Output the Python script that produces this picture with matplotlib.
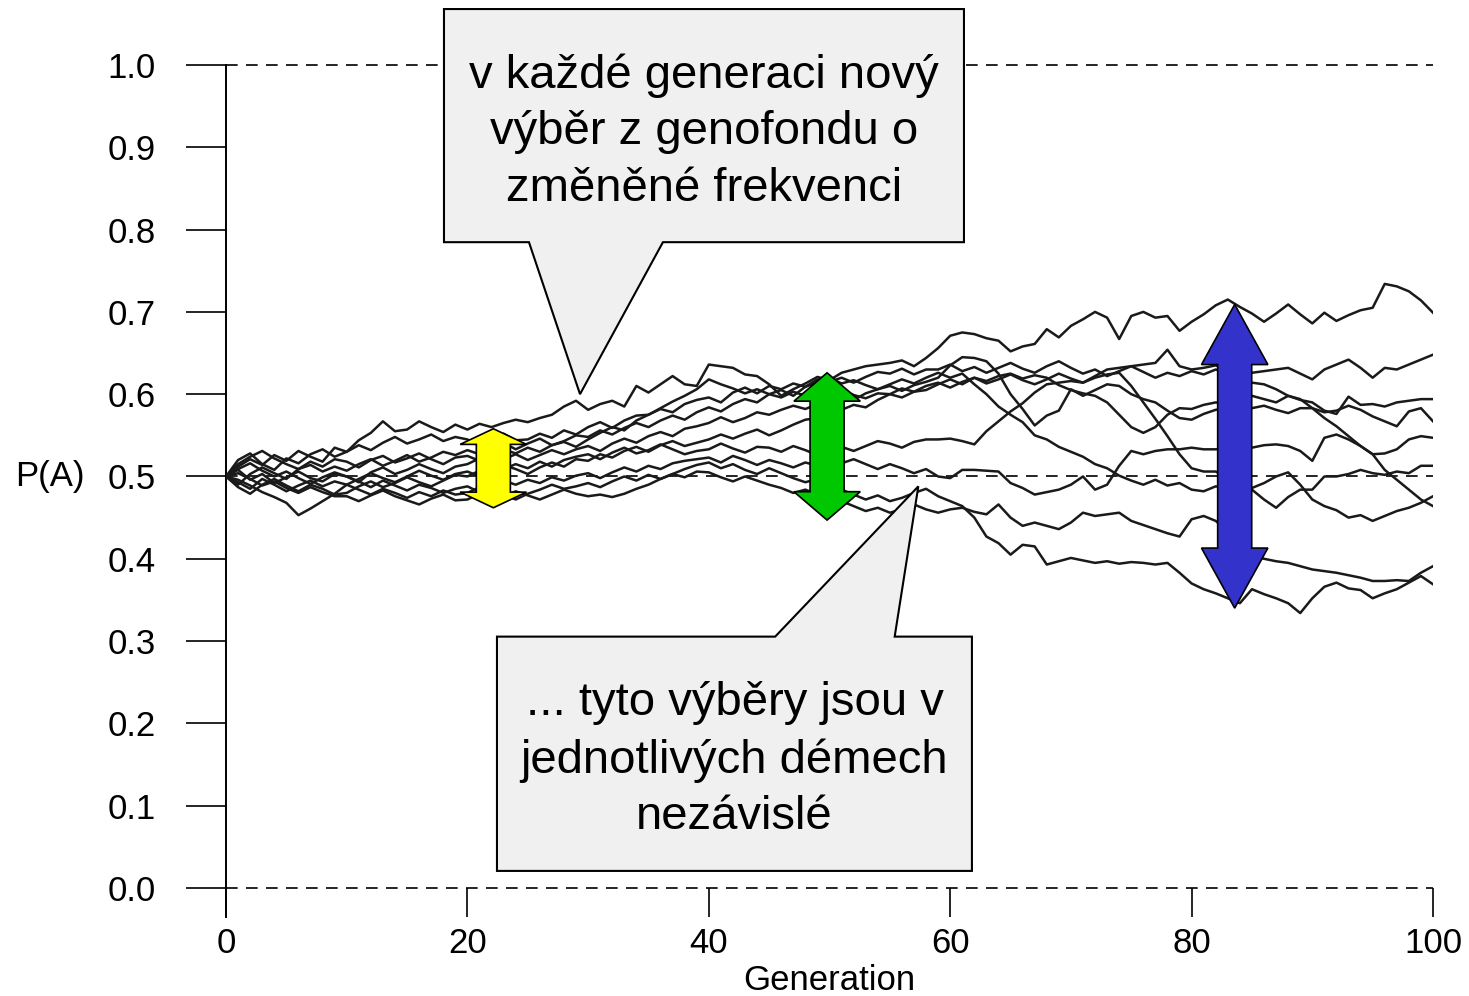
import matplotlib
matplotlib.use("Agg")
import matplotlib.pyplot as plt
from matplotlib.patches import Polygon
from matplotlib.transforms import blended_transform_factory

plt.rcParams["font.family"] = ["Liberation Sans", "DejaVu Sans"]

generations = list(range(101))

# P(A) in ten demes
deme_a = [0.500, 0.512, 0.521, 0.514, 0.526, 0.519, 0.531, 0.524, 0.518, 0.535,
          0.530, 0.544, 0.553, 0.567, 0.555, 0.557, 0.567, 0.560, 0.554, 0.563,
          0.557, 0.564, 0.560, 0.565, 0.569, 0.566, 0.571, 0.575, 0.585, 0.592,
          0.581, 0.588, 0.592, 0.585, 0.610, 0.602, 0.612, 0.622, 0.612, 0.610,
          0.636, 0.634, 0.632, 0.624, 0.622, 0.612, 0.598, 0.606, 0.613, 0.621,
          0.617, 0.626, 0.630, 0.634, 0.636, 0.638, 0.641, 0.634, 0.644, 0.656,
          0.671, 0.675, 0.673, 0.668, 0.665, 0.652, 0.658, 0.661, 0.679, 0.669,
          0.683, 0.691, 0.700, 0.693, 0.667, 0.695, 0.700, 0.693, 0.695, 0.677,
          0.688, 0.697, 0.708, 0.715, 0.706, 0.698, 0.688, 0.698, 0.709, 0.697,
          0.686, 0.699, 0.689, 0.696, 0.702, 0.705, 0.734, 0.731, 0.725, 0.714,
          0.699]
deme_b = [0.500, 0.487, 0.479, 0.490, 0.497, 0.489, 0.482, 0.490, 0.485, 0.478,
          0.480, 0.488, 0.494, 0.487, 0.492, 0.499, 0.493, 0.488, 0.495, 0.502,
          0.500, 0.507, 0.501, 0.509, 0.515, 0.510, 0.518, 0.512, 0.520, 0.524,
          0.527, 0.521, 0.529, 0.535, 0.528, 0.532, 0.539, 0.533, 0.527, 0.531,
          0.533, 0.540, 0.534, 0.529, 0.536, 0.535, 0.530, 0.537, 0.532, 0.526,
          0.530, 0.536, 0.531, 0.537, 0.543, 0.540, 0.535, 0.542, 0.545, 0.545,
          0.546, 0.543, 0.539, 0.555, 0.567, 0.579, 0.589, 0.602, 0.612, 0.614,
          0.616, 0.614, 0.622, 0.630, 0.632, 0.634, 0.636, 0.638, 0.654, 0.634,
          0.630, 0.632, 0.635, 0.629, 0.626, 0.626, 0.628, 0.630, 0.632, 0.625,
          0.618, 0.630, 0.636, 0.642, 0.632, 0.620, 0.632, 0.630, 0.636, 0.642,
          0.648]
deme_c = [0.500, 0.493, 0.485, 0.497, 0.490, 0.482, 0.489, 0.495, 0.488, 0.494,
          0.490, 0.497, 0.504, 0.498, 0.493, 0.500, 0.507, 0.501, 0.496, 0.503,
          0.506, 0.500, 0.508, 0.514, 0.509, 0.503, 0.511, 0.517, 0.512, 0.521,
          0.519, 0.527, 0.523, 0.531, 0.536, 0.530, 0.538, 0.543, 0.537, 0.541,
          0.545, 0.551, 0.546, 0.552, 0.557, 0.550, 0.556, 0.563, 0.569, 0.571,
          0.575, 0.581, 0.587, 0.584, 0.593, 0.600, 0.596, 0.603, 0.605, 0.612,
          0.618, 0.612, 0.620, 0.616, 0.622, 0.625, 0.619, 0.623, 0.620, 0.611,
          0.605, 0.601, 0.598, 0.590, 0.575, 0.560, 0.553, 0.560, 0.575, 0.583,
          0.582, 0.587, 0.590, 0.588, 0.594, 0.598, 0.594, 0.590, 0.598, 0.593,
          0.590, 0.580, 0.576, 0.597, 0.587, 0.588, 0.585, 0.590, 0.592, 0.594,
          0.594]
deme_d = [0.500, 0.508, 0.496, 0.503, 0.492, 0.499, 0.506, 0.498, 0.494, 0.503,
          0.500, 0.493, 0.505, 0.511, 0.503, 0.508, 0.515, 0.509, 0.504, 0.512,
          0.515, 0.522, 0.516, 0.521, 0.527, 0.520, 0.526, 0.532, 0.527, 0.533,
          0.537, 0.531, 0.540, 0.546, 0.541, 0.549, 0.554, 0.549, 0.558, 0.561,
          0.565, 0.572, 0.566, 0.571, 0.578, 0.575, 0.581, 0.586, 0.582, 0.588,
          0.590, 0.597, 0.593, 0.601, 0.606, 0.610, 0.604, 0.611, 0.615, 0.620,
          0.635, 0.645, 0.644, 0.640, 0.625, 0.600, 0.582, 0.562, 0.574, 0.580,
          0.606, 0.598, 0.605, 0.612, 0.610, 0.600, 0.594, 0.590, 0.580, 0.571,
          0.569, 0.576, 0.581, 0.583, 0.579, 0.583, 0.586, 0.581, 0.577, 0.583,
          0.583, 0.578, 0.580, 0.586, 0.581, 0.573, 0.567, 0.561, 0.579, 0.583,
          0.567]
deme_e = [0.500, 0.509, 0.516, 0.507, 0.500, 0.506, 0.498, 0.491, 0.499, 0.505,
          0.500, 0.494, 0.487, 0.495, 0.489, 0.483, 0.490, 0.486, 0.480, 0.485,
          0.488, 0.481, 0.489, 0.495, 0.490, 0.496, 0.492, 0.499, 0.495, 0.501,
          0.504, 0.498, 0.505, 0.511, 0.506, 0.513, 0.509, 0.516, 0.519, 0.521,
          0.523, 0.517, 0.525, 0.520, 0.514, 0.520, 0.516, 0.511, 0.517, 0.513,
          0.510, 0.516, 0.521, 0.515, 0.509, 0.515, 0.510, 0.504, 0.509, 0.500,
          0.498, 0.508, 0.508, 0.507, 0.506, 0.492, 0.486, 0.478, 0.481, 0.484,
          0.490, 0.500, 0.484, 0.490, 0.513, 0.531, 0.527, 0.531, 0.533, 0.533,
          0.535, 0.533, 0.533, 0.534, 0.535, 0.535, 0.538, 0.539, 0.537, 0.531,
          0.519, 0.547, 0.551, 0.545, 0.537, 0.527, 0.528, 0.533, 0.545, 0.549,
          0.547]
deme_f = [0.500, 0.515, 0.524, 0.531, 0.522, 0.515, 0.509, 0.518, 0.512, 0.521,
          0.518, 0.511, 0.520, 0.525, 0.517, 0.522, 0.528, 0.521, 0.515, 0.523,
          0.525, 0.519, 0.527, 0.533, 0.528, 0.535, 0.530, 0.538, 0.542, 0.536,
          0.545, 0.553, 0.560, 0.556, 0.568, 0.575, 0.583, 0.591, 0.598, 0.606,
          0.618, 0.612, 0.607, 0.601, 0.606, 0.600, 0.596, 0.603, 0.598, 0.604,
          0.600, 0.606, 0.599, 0.595, 0.601, 0.600, 0.607, 0.603, 0.610, 0.614,
          0.608, 0.615, 0.620, 0.613, 0.618, 0.624, 0.617, 0.612, 0.618, 0.625,
          0.619, 0.614, 0.620, 0.624, 0.626, 0.610, 0.590, 0.570, 0.549, 0.527,
          0.510, 0.506, 0.506, 0.498, 0.490, 0.484, 0.472, 0.462, 0.475, 0.484,
          0.484, 0.500, 0.500, 0.503, 0.508, 0.504, 0.502, 0.506, 0.504, 0.513,
          0.513]
deme_g = [0.500, 0.490, 0.503, 0.511, 0.504, 0.497, 0.509, 0.514, 0.506, 0.512,
          0.507, 0.515, 0.521, 0.513, 0.519, 0.526, 0.518, 0.523, 0.530, 0.526,
          0.532, 0.527, 0.535, 0.541, 0.533, 0.540, 0.546, 0.538, 0.543, 0.550,
          0.548, 0.556, 0.551, 0.559, 0.565, 0.560, 0.568, 0.574, 0.569, 0.578,
          0.584, 0.579, 0.588, 0.594, 0.590, 0.600, 0.605, 0.598, 0.609, 0.614,
          0.620, 0.613, 0.617, 0.611, 0.606, 0.612, 0.618, 0.613, 0.620, 0.626,
          0.620, 0.625, 0.612, 0.600, 0.585, 0.575, 0.566, 0.550, 0.545, 0.536,
          0.530, 0.524, 0.515, 0.510, 0.501, 0.495, 0.490, 0.496, 0.489, 0.492,
          0.484, 0.482, 0.488, 0.486, 0.485, 0.486, 0.492, 0.500, 0.505, 0.490,
          0.472, 0.464, 0.459, 0.450, 0.453, 0.446, 0.452, 0.458, 0.462, 0.468,
          0.476]
deme_h = [0.500, 0.520, 0.528, 0.515, 0.508, 0.522, 0.516, 0.527, 0.533, 0.524,
          0.530, 0.538, 0.532, 0.541, 0.548, 0.540, 0.545, 0.551, 0.543, 0.548,
          0.545, 0.537, 0.546, 0.552, 0.544, 0.545, 0.552, 0.547, 0.556, 0.551,
          0.560, 0.566, 0.559, 0.568, 0.574, 0.575, 0.582, 0.578, 0.588, 0.593,
          0.596, 0.590, 0.602, 0.608, 0.601, 0.610, 0.606, 0.613, 0.609, 0.618,
          0.615, 0.620, 0.614, 0.621, 0.627, 0.625, 0.631, 0.624, 0.630, 0.630,
          0.636, 0.628, 0.633, 0.626, 0.632, 0.638, 0.631, 0.626, 0.634, 0.640,
          0.632, 0.625, 0.630, 0.622, 0.628, 0.634, 0.627, 0.620, 0.626, 0.622,
          0.628, 0.624, 0.630, 0.625, 0.620, 0.614, 0.612, 0.606, 0.598, 0.594,
          0.583, 0.571, 0.561, 0.549, 0.537, 0.527, 0.508, 0.496, 0.484, 0.472,
          0.464]
deme_i = [0.500, 0.504, 0.497, 0.489, 0.494, 0.486, 0.480, 0.487, 0.481, 0.476,
          0.476, 0.470, 0.477, 0.483, 0.476, 0.471, 0.466, 0.473, 0.478, 0.471,
          0.472, 0.479, 0.485, 0.478, 0.472, 0.479, 0.484, 0.490, 0.485, 0.488,
          0.492, 0.487, 0.494, 0.500, 0.495, 0.502, 0.497, 0.503, 0.499, 0.506,
          0.505, 0.499, 0.494, 0.500, 0.495, 0.490, 0.486, 0.480, 0.484, 0.478,
          0.475, 0.470, 0.464, 0.458, 0.462, 0.456, 0.460, 0.466, 0.460, 0.456,
          0.460, 0.462, 0.457, 0.454, 0.466, 0.450, 0.440, 0.444, 0.440, 0.436,
          0.444, 0.456, 0.452, 0.454, 0.456, 0.446, 0.441, 0.436, 0.431, 0.427,
          0.448, 0.452, 0.446, 0.433, 0.418, 0.404, 0.400, 0.397, 0.395, 0.391,
          0.387, 0.385, 0.383, 0.380, 0.377, 0.373, 0.373, 0.374, 0.373, 0.383,
          0.391]
deme_j = [0.500, 0.496, 0.489, 0.481, 0.475, 0.468, 0.453, 0.461, 0.470, 0.479,
          0.490, 0.484, 0.478, 0.485, 0.480, 0.474, 0.481, 0.476, 0.483, 0.478,
          0.480, 0.487, 0.481, 0.475, 0.482, 0.477, 0.472, 0.478, 0.484, 0.479,
          0.476, 0.478, 0.475, 0.479, 0.485, 0.490, 0.497, 0.503, 0.509, 0.514,
          0.517, 0.510, 0.515, 0.508, 0.503, 0.510, 0.504, 0.498, 0.493, 0.497,
          0.490, 0.484, 0.478, 0.472, 0.477, 0.470, 0.474, 0.480, 0.485, 0.476,
          0.470, 0.464, 0.450, 0.427, 0.419, 0.405, 0.417, 0.415, 0.393, 0.397,
          0.401, 0.398, 0.395, 0.397, 0.394, 0.396, 0.395, 0.393, 0.395, 0.383,
          0.370, 0.363, 0.358, 0.352, 0.346, 0.363, 0.357, 0.352, 0.346, 0.334,
          0.352, 0.366, 0.371, 0.364, 0.362, 0.352, 0.358, 0.363, 0.371, 0.379,
          0.369]
demes = [deme_a, deme_b, deme_c, deme_d, deme_e, deme_f, deme_g, deme_h, deme_i, deme_j]

y_ticks = [0.0, 0.1, 0.2, 0.3, 0.4, 0.5, 0.6, 0.7, 0.8, 0.9, 1.0]
x_ticks = [0, 20, 40, 60, 80, 100]
ref_levels = [0.0, 0.5, 1.0]

# double arrows showing the spread between demes
arrow_gen = [22.15, 49.8, 83.57]
arrow_top = [0.558, 0.626, 0.709]
arrow_bottom = [0.462, 0.447, 0.340]
arrow_head = [0.019, 0.0345, 0.073]
arrow_colors = ["#ffff00", "#00c800", "#3333cc"]

top_text = "v každé generaci nový\nvýběr z genofondu o\nzměněné frekvenci"
bottom_text = "... tyto výběry jsou v\njednotlivých démech\nnezávislé"


def double_arrow(ax, x, top, bottom, head, color, head_w=2.75, shaft_w=1.41):
    pts = [(x, top), (x + head_w, top - head), (x + shaft_w, top - head),
           (x + shaft_w, bottom + head), (x + head_w, bottom + head), (x, bottom),
           (x - head_w, bottom + head), (x - shaft_w, bottom + head),
           (x - shaft_w, top - head), (x - head_w, top - head)]
    ax.add_patch(Polygon(pts, closed=True, fc=color, ec="black", lw=1.2,
                         joinstyle="miter", zorder=5))


def callout(ax, x0, x1, y0, y1, base, tip, text, below):
    """Speech box; below=True means the box hangs under the pointer."""
    if below:
        pts = [(x0, y0), (x0, y1), (base[0], y1), tip, (base[1], y1), (x1, y1), (x1, y0)]
    else:
        pts = [(x0, y1), (x1, y1), (x1, y0), (base[1], y0), tip, (base[0], y0), (x0, y0)]
    ax.add_patch(Polygon(pts, closed=True, fc="#f0f0f0", ec="black", lw=1.5,
                         joinstyle="miter", zorder=6, clip_on=False))
    ax.text((x0 + x1) / 2, (y0 + y1) / 2 - 0.008, text, ha="center", va="center",
            multialignment="center", fontsize=34, linespacing=1.37, zorder=7,
            clip_on=False)


fig = plt.figure(figsize=(14.69, 9.96), dpi=100)
ax = fig.add_axes([226 / 1469, 1 - 917 / 996, 1207 / 1469, 852 / 996])
ax.set_xlim(0, 100)
ax.set_ylim(-0.0353, 1.0)

for vals in demes:
    ax.plot(generations, vals, color="#1a1a1a", lw=1.8, zorder=3)

ax.hlines(ref_levels, 0, 100, colors="black", linestyles=(0, (7, 5)), lw=1.2,
          zorder=2, clip_on=False)

for x, t, b, h, c in zip(arrow_gen, arrow_top, arrow_bottom, arrow_head, arrow_colors):
    double_arrow(ax, x, t, b, h, c)

callout(ax, 18.06, 61.14, 0.7847, 1.068, (25.1, 36.2), (29.33, 0.600), top_text, False)
callout(ax, 22.45, 61.8, 0.0207, 0.3054, (45.5, 55.4), (57.36, 0.488), bottom_text, True)

for side in ["top", "right", "bottom"]:
    ax.spines[side].set_visible(False)
ax.spines["left"].set_linewidth(1.4)

ax.set_yticks(y_ticks)
ax.set_yticklabels([f"{v:.1f}" for v in y_ticks])
ax.set_xticks(x_ticks)
ax.set_xticklabels([str(v) for v in x_ticks])
ax.tick_params(axis="y", direction="out", length=28.8, width=1.2, pad=22, labelsize=25)
ax.tick_params(axis="x", direction="in", length=21, width=1.2, pad=7, labelsize=25)

ax.text(15 / 1469, 0.5, "P(A)", fontsize=25, ha="left", va="center",
        transform=blended_transform_factory(fig.transFigure, ax.transData))
ax.text(50, 1 - 980 / 996, "Generation", fontsize=25, ha="center", va="center",
        transform=blended_transform_factory(ax.transData, fig.transFigure))

fig.savefig("out.png", dpi=100)
plt.close(fig)
